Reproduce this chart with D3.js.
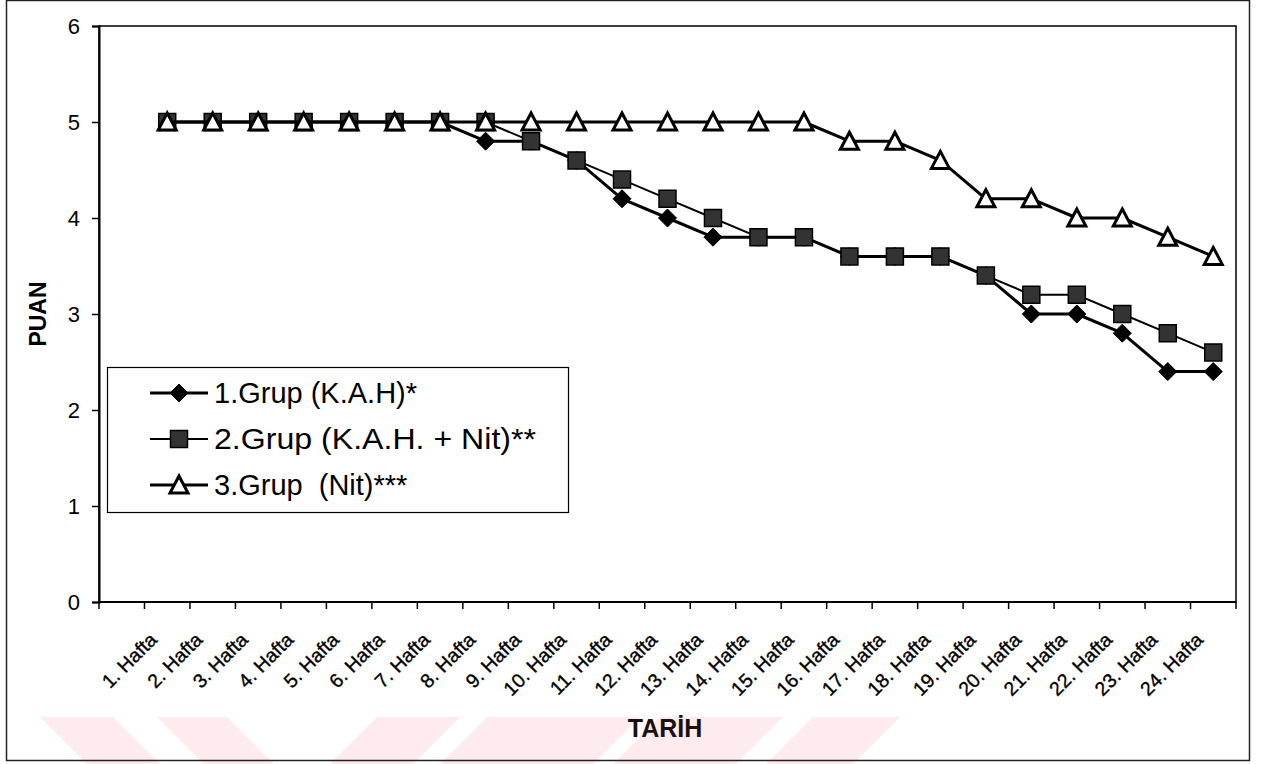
<!DOCTYPE html>
<html>
<head>
<meta charset="utf-8">
<script src="https://cdn.jsdelivr.net/npm/d3@7"></script>
<style>
  html, body { margin: 0; padding: 0; background: #fff; }
  svg { display: block; font-family: "Liberation Sans", Arial, sans-serif; }
</style>
</head>
<body>
<svg id="chart" width="1264" height="764"></svg>
<script>
// Weekly scores of three treatment groups
const weeks = ["1. Hafta", "2. Hafta", "3. Hafta", "4. Hafta", "5. Hafta", "6. Hafta",
  "7. Hafta", "8. Hafta", "9. Hafta", "10. Hafta", "11. Hafta", "12. Hafta",
  "13. Hafta", "14. Hafta", "15. Hafta", "16. Hafta", "17. Hafta", "18. Hafta",
  "19. Hafta", "20. Hafta", "21. Hafta", "22. Hafta", "23. Hafta", "24. Hafta"];
const seriesNames = ["1.Grup (K.A.H)*", "2.Grup (K.A.H. + Nit)**", "3.Grup  (Nit)***"];
const grup1 = [5, 5, 5, 5, 5, 5, 5, 4.8, 4.8, 4.6, 4.2, 4.0, 3.8, 3.8, 3.8, 3.6, 3.6, 3.6, 3.4, 3.0, 3.0, 2.8, 2.4, 2.4];
const grup2 = [5, 5, 5, 5, 5, 5, 5, 5, 4.8, 4.6, 4.4, 4.2, 4.0, 3.8, 3.8, 3.6, 3.6, 3.6, 3.4, 3.2, 3.2, 3.0, 2.8, 2.6];
const grup3 = [5, 5, 5, 5, 5, 5, 5, 5, 5, 5, 5, 5, 5, 5, 5, 4.8, 4.8, 4.6, 4.2, 4.2, 4.0, 4.0, 3.8, 3.6];
const yTicks = [0, 1, 2, 3, 4, 5, 6];
const yTitle = "PUAN";
const xTitle = "TARİH";

const svg = d3.select("#chart");

// faint watermark bands along the bottom edge
const bands = [
  [[40, 717], [113, 717], [160, 764], [87, 764]],
  [[157, 717], [227, 717], [274, 764], [204, 764]],
  [[377, 717], [460, 717], [413, 764], [330, 764]],
  [[487, 717], [640, 717], [593, 764], [440, 764]],
  [[660, 717], [783, 717], [736, 764], [613, 764]],
  [[813, 717], [900, 717], [853, 764], [766, 764]]
];
svg.append("g").selectAll("polygon").data(bands).join("polygon")
  .attr("points", d => d.map(p => p.join(",")).join(" "))
  .attr("fill", "#fdebee");

// outer chart frame
svg.append("rect").attr("x", 6.5).attr("y", 0.5).attr("width", 1243).attr("height", 760)
  .attr("fill", "none").attr("stroke", "#222").attr("stroke-width", 1.5);

const plot = { left: 99, right: 1236, top: 26, bottom: 602 };

const x = d3.scaleBand().domain(["", ...weeks]).range([plot.left, plot.right]).paddingInner(0).paddingOuter(0);
const cx = d => x(d) + x.bandwidth() / 2;
const y = d3.scaleLinear().domain([0, 6]).range([plot.bottom, plot.top]);

// plot area frame
svg.append("rect").attr("x", plot.left).attr("y", plot.top)
  .attr("width", plot.right - plot.left).attr("height", plot.bottom - plot.top)
  .attr("fill", "none").attr("stroke", "#000").attr("stroke-width", 1.5);

// y axis
const yAxis = svg.append("g").attr("transform", `translate(${plot.left},0)`)
  .call(d3.axisLeft(y).tickValues(yTicks).tickFormat(d3.format("d")).tickSize(7).tickPadding(12));
yAxis.select(".domain").attr("stroke", "#000").attr("stroke-width", 2);
yAxis.selectAll(".tick line").attr("stroke", "#000").attr("stroke-width", 1.5);
yAxis.selectAll(".tick text").attr("font-size", 22).attr("fill", "#000")
  .attr("font-family", "'Liberation Sans', Arial, sans-serif");

// x axis: ticks between categories, labels rotated
const xAxis = svg.append("g").attr("transform", `translate(0,${plot.bottom})`);
xAxis.append("line").attr("x1", plot.left).attr("x2", plot.right).attr("y1", 0).attr("y2", 0)
  .attr("stroke", "#000").attr("stroke-width", 2);
xAxis.selectAll("line.tk").data(d3.range(x.domain().length + 1)).join("line")
  .attr("class", "tk")
  .attr("x1", i => plot.left + i * x.step()).attr("x2", i => plot.left + i * x.step())
  .attr("y1", 0).attr("y2", 7).attr("stroke", "#000").attr("stroke-width", 1.5);
xAxis.selectAll("text").data(weeks).join("text")
  .attr("transform", d => `translate(${cx(d) - 9},${39}) rotate(-45)`)
  .attr("text-anchor", "end")
  .attr("font-size", 19.5).attr("fill", "#000")
  .attr("stroke", "#000").attr("stroke-width", 0.35)
  .text(d => d);

// axis titles
svg.append("text").attr("transform", `translate(46,314) rotate(-90)`)
  .attr("text-anchor", "middle").attr("font-size", 23).attr("font-weight", "bold")
  .text(yTitle);
svg.append("text").attr("x", 665).attr("y", 737)
  .attr("text-anchor", "middle").attr("font-size", 25).attr("font-weight", "bold")
  .attr("fill", "#1a1010")
  .text(xTitle);

// marker shapes
const diamond = "M0,-9L9,0L0,9L-9,0Z";
const square = "M-8.5,-8.5H8.5V8.5H-8.5Z";
const triangle = "M0,-9L9,8H-9Z";

const series = [
  { name: seriesNames[0], values: grup1, width: 3, shape: diamond, fill: "#000", stroke: "#000", sw: 1, textLen: null },
  { name: seriesNames[1], values: grup2, width: 2, shape: square, fill: "#333", stroke: "#000", sw: 1.5, textLen: 322 },
  { name: seriesNames[2], values: grup3, width: 3, shape: triangle, fill: "#fff", stroke: "#000", sw: 3, textLen: null }
];

const line = d3.line().x((d, i) => cx(weeks[i])).y(d => y(d));

series.forEach(s => {
  const g = svg.append("g");
  g.append("path").datum(s.values).attr("d", line)
    .attr("fill", "none").attr("stroke", "#000").attr("stroke-width", s.width)
    .attr("stroke-linejoin", "round");
  g.selectAll("path.m").data(s.values).join("path").attr("class", "m")
    .attr("d", s.shape)
    .attr("transform", (d, i) => `translate(${cx(weeks[i])},${y(d)})`)
    .attr("fill", s.fill).attr("stroke", s.stroke).attr("stroke-width", s.sw)
    .attr("stroke-linejoin", "miter");
});

// legend
const lg = svg.append("g");
lg.append("rect").attr("x", 107.5).attr("y", 367.5).attr("width", 461).attr("height", 145)
  .attr("fill", "#fff").attr("stroke", "#000").attr("stroke-width", 1.2);
const rowY = [393, 439, 485];
series.forEach((s, i) => {
  const r = lg.append("g").attr("transform", `translate(0,${rowY[i]})`);
  r.append("line").attr("x1", 150).attr("x2", 208).attr("y1", 0).attr("y2", 0)
    .attr("stroke", "#000").attr("stroke-width", s.width);
  r.append("path").attr("d", s.shape).attr("transform", "translate(179,0)")
    .attr("fill", s.fill).attr("stroke", s.stroke).attr("stroke-width", s.sw);
  const t = r.append("text").attr("x", 214).attr("y", 10).attr("font-size", 29).attr("fill", "#000")
    .attr("xml:space", "preserve").style("white-space", "pre")
    .text(s.name);
  if (s.textLen) t.attr("textLength", s.textLen).attr("lengthAdjust", "spacingAndGlyphs");
});
</script>
</body>
</html>
